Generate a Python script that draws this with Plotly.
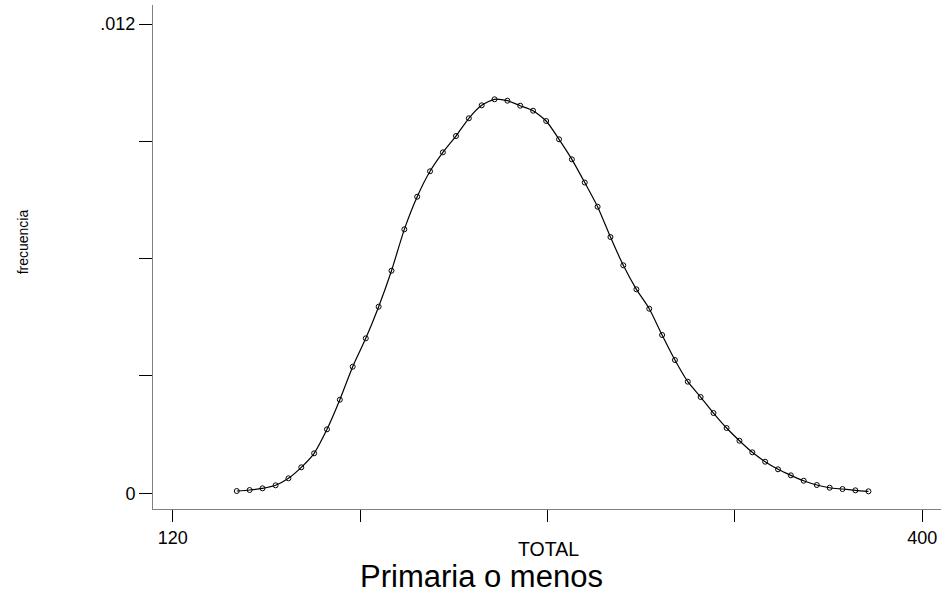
import plotly.graph_objects as go

# Data
total = [143.9, 148.7, 153.5, 158.4, 163.2, 168.0, 172.8, 177.6, 182.4, 187.2,
         192.1, 196.9, 201.7, 206.5, 211.3, 216.1, 220.9, 225.8, 230.6, 235.4,
         240.2, 245.0, 249.8, 254.6, 259.5, 264.3, 269.1, 273.9, 278.7, 283.5,
         288.3, 293.2, 298.0, 302.8, 307.6, 312.4, 317.2, 322.0, 326.9, 331.7,
         336.5, 341.3, 346.1, 350.9, 355.7, 360.6, 365.4, 370.2, 375.0, 379.9]
frecuencia = [0.0000588, 0.0000844, 0.000128, 0.000205, 0.000384, 0.000665, 0.001023, 0.001636, 0.002393, 0.003237,
              0.003963, 0.004771, 0.005692, 0.006750, 0.007584, 0.008234, 0.008719, 0.009136, 0.009589, 0.009921,
              0.010075, 0.010039, 0.009911, 0.009783, 0.009520, 0.009052, 0.008540, 0.007947, 0.007328, 0.006554,
              0.005830, 0.005216, 0.004720, 0.004048, 0.003408, 0.002854, 0.002462, 0.002053, 0.001670, 0.001345,
              0.001048, 0.000808, 0.000614, 0.000460, 0.000322, 0.000212, 0.000143, 0.000110, 0.0000767, 0.0000511]

x_tickvals = [120, 190, 260, 330, 400]
x_ticktext = ["120", "", "", "", "400"]
y_tickvals = [0, 0.003, 0.006, 0.009, 0.012]
y_ticktext = ["0", "", "", "", ".012"]

FONT = "Liberation Sans, Arial, sans-serif"

fig = go.Figure()
fig.add_trace(go.Scatter(
    x=total, y=frecuencia, mode="lines",
    line=dict(color="black", width=1.2, shape="spline", smoothing=0.6),
    hoverinfo="skip", showlegend=False,
))
fig.add_trace(go.Scatter(
    x=total, y=frecuencia, mode="markers",
    marker=dict(symbol="circle-open", size=5, color="black", line=dict(width=1, color="black")),
    showlegend=False,
))

fig.update_layout(
    width=948, height=596,
    margin=dict(l=153, r=7, t=5, b=87),
    paper_bgcolor="white", plot_bgcolor="white",
    font=dict(family=FONT, color="black", size=18),
    xaxis=dict(
        range=[112.6, 407.0], tickvals=x_tickvals, ticktext=x_ticktext,
        showgrid=False, zeroline=False, showline=True, linecolor="#808080", linewidth=1,
        ticks="outside", ticklen=12, tickcolor="black", tickwidth=1,
        tickfont=dict(size=18, family=FONT, color="black"),
    ),
    yaxis=dict(
        range=[-0.000401, 0.012486], tickvals=y_tickvals, ticktext=y_ticktext,
        showgrid=False, zeroline=False, showline=True, linecolor="#808080", linewidth=1,
        ticks="outside", ticklen=13, tickcolor="black", tickwidth=1,
        tickfont=dict(size=18, family=FONT, color="black"),
    ),
    annotations=[
        dict(text="TOTAL", xref="paper", yref="paper", x=0.5013, y=-0.0794,
             xanchor="center", yanchor="middle", showarrow=False,
             font=dict(size=19.5, family=FONT, color="black")),
        dict(text="Primaria o menos", xref="paper", yref="paper", x=0.4175, y=-0.1349,
             xanchor="center", yanchor="middle", showarrow=False,
             font=dict(size=31, family=FONT, color="black")),
        dict(text="frecuencia", xref="paper", yref="paper", x=-0.1654, y=0.5304,
             xanchor="center", yanchor="middle", showarrow=False, textangle=-90,
             font=dict(size=14, family=FONT, color="black")),
    ],
)

fig.write_html("out.html", config={"displayModeBar": False},
               post_script="document.body.style.margin='0';document.body.style.padding='0';")
